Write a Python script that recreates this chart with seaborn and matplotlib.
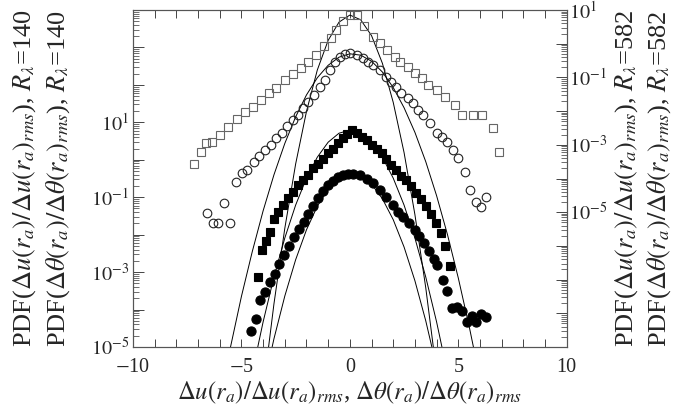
import numpy as np
import pandas as pd
import matplotlib
matplotlib.use("Agg")
import matplotlib.pyplot as plt
import seaborn as sns
from matplotlib.ticker import LogLocator, FixedLocator, MultipleLocator, NullFormatter, FuncFormatter

# ---- R_lambda = 140 (left axis), log10 of PDF ----
# velocity increments, shifted by one decade (filled squares)
u140_x = [-4.23, -4.07, -3.87, -3.69, -3.50, -3.30, -3.07, -2.84, -2.61, -2.38, -2.15,
          -1.92, -1.69, -1.46, -1.23, -1.00, -0.77, -0.54, -0.31, -0.11, 0.08, 0.31,
          0.54, 0.77, 1.00, 1.23, 1.46, 1.69, 1.92, 2.15, 2.38, 2.61, 2.84, 3.07,
          3.30, 3.53, 3.76, 3.99, 4.20, 4.40, 4.62]
u140_log = [-3.13, -2.40, -2.17, -1.94, -1.57, -1.39, -1.21, -1.03, -0.86, -0.68, -0.55,
            -0.41, -0.23, -0.10, 0.03, 0.17, 0.30, 0.44, 0.57, 0.70, 0.79, 0.72,
            0.60, 0.52, 0.40, 0.28, 0.17, 0.02, -0.14, -0.28, -0.42, -0.55, -0.71, -0.88,
            -1.06, -1.24, -1.45, -1.68, -1.95, -2.30, -2.85]

# scalar increments (filled circles)
t140_x = [-4.58, -4.35, -4.15, -3.92, -3.69, -3.46, -3.26, -3.03, -2.80, -2.57, -2.34,
          -2.12, -1.92, -1.69, -1.46, -1.23, -1.00, -0.77, -0.54, -0.31, -0.08, 0.15,
          0.46, 0.77, 1.07, 1.38, 1.69, 2.00, 2.23, 2.46, 2.73, 3.00, 3.19, 3.42,
          3.63, 3.87, 4.04, 4.30, 4.48, 4.69, 4.96, 5.15, 5.38, 5.61, 5.81, 6.07, 6.27]
t140_log = [-4.56, -4.26, -3.75, -3.53, -3.26, -3.04, -2.79, -2.55, -2.31, -2.06, -1.86,
            -1.66, -1.44, -1.24, -1.03, -0.83, -0.68, -0.56, -0.47, -0.41, -0.37, -0.37,
            -0.41, -0.50, -0.63, -0.81, -0.99, -1.21, -1.39, -1.53, -1.70, -1.88, -2.04, -2.22,
            -2.44, -2.65, -2.80, -3.20, -3.51, -3.95, -3.93, -4.04, -4.33, -4.17, -4.33, -4.13, -4.20]

# ---- R_lambda = 582 (right axis), log10 of PDF ----
# velocity increments, shifted by one decade (open squares)
u582_x = [-7.19, -6.88, -6.62, -6.36, -6.00, -5.62, -5.21, -4.85, -4.47, -4.11, -3.73,
          -3.39, -3.00, -2.62, -2.23, -1.93, -1.54, -1.20, -0.88, -0.62, -0.30, 0.00,
          0.31, 0.65, 1.06, 1.39, 1.70, 2.08, 2.31, 2.68, 3.00, 3.31, 3.62, 4.00,
          4.39, 4.85, 5.16, 5.68, 6.08, 6.60, 6.88]
u582_log = [-3.58, -3.22, -2.96, -2.91, -2.71, -2.46, -2.23, -2.02, -1.87, -1.67, -1.47,
            -1.32, -1.08, -0.90, -0.73, -0.53, -0.34, -0.06, 0.16, 0.40, 0.66, 0.85,
            0.85, 0.52, 0.21, 0.02, -0.19, -0.39, -0.53, -0.68, -0.88, -1.03, -1.23, -1.37,
            -1.57, -1.82, -2.12, -2.12, -2.12, -2.50, -3.20]

# scalar increments (open circles)
t582_x = [-6.60, -6.30, -6.07, -5.81, -5.53, -5.25, -4.99, -4.73, -4.42, -4.18, -3.92,
          -3.65, -3.41, -3.15, -2.89, -2.64, -2.41, -2.15, -1.92, -1.66, -1.38, -1.15,
          -0.92, -0.69, -0.46, -0.23, 0.00, 0.31, 0.61, 0.84, 1.07, 1.38, 1.69, 1.92,
          2.15, 2.38, 2.69, 2.92, 3.15, 3.38, 3.69, 4.00, 4.23, 4.46, 4.76, 4.99,
          5.30, 5.53, 5.84, 6.07, 6.30]
t582_log = [-5.03, -5.33, -5.33, -4.74, -5.33, -4.09, -3.85, -3.75, -3.50, -3.33, -3.15,
            -3.01, -2.81, -2.64, -2.44, -2.26, -2.12, -1.92, -1.72, -1.52, -1.29, -1.08,
            -0.78, -0.53, -0.40, -0.32, -0.28, -0.34, -0.43, -0.53, -0.63, -0.78, -0.98, -1.13,
            -1.28, -1.47, -1.62, -1.77, -1.97, -2.12, -2.36, -2.66, -2.76, -2.91, -3.15, -3.40,
            -3.80, -4.34, -4.69, -4.84, -4.54]

# ---- Gaussian reference curves (log10 of PDF) ----
gx_half = [-6.0, -5.5, -5.0, -4.5, -4.0, -3.5, -3.0, -2.5, -2.0, -1.5, -1.0, -0.5, 0.0,
           0.5, 1.0, 1.5, 2.0, 2.5, 3.0, 3.5, 4.0, 4.5, 5.0, 5.5, 6.0]
g_u140_log = [-10.7, -8.89, -7.21, -5.69, -4.33, -3.13, -2.09, -1.21, -0.49, 0.07, 0.47, 0.71, 0.79,
              0.71, 0.47, 0.07, -0.49, -1.21, -2.09, -3.13, -4.33, -5.69, -7.21, -8.89, -10.7]
g_t140_log = [-13.0, -10.9, -8.98, -7.24, -6.09, -4.78, -3.64, -2.67, -1.87, -1.24, -0.78, -0.49, -0.37,
              -0.42, -0.65, -1.04, -1.60, -2.33, -3.23, -4.30, -5.54, -6.95, -8.53, -10.3, -12.2]
g_u582_log = [-23.6, -19.5, -16.0, -12.9, -10.3, -7.72, -5.48, -3.57, -2.01, -0.78, 0.10, 0.64, 0.85,
              0.71, 0.24, -0.58, -1.74, -3.23, -5.07, -7.24, -9.76, -12.6, -15.8, -19.3, -23.2]
g_t582_log = [-10.6, -8.99, -7.50, -6.17, -4.96, -3.89, -2.96, -2.17, -1.52, -1.01, -0.64, -0.40, -0.30,
              -0.34, -0.52, -0.84, -1.30, -1.90, -2.63, -3.50, -4.51, -5.66, -6.95, -8.38, -9.94]

left_label = ("PDF($\\Delta u(r_a)/\\Delta u(r_a)_{rms}$), $R_\\lambda$=140\n"
              "PDF($\\Delta\\theta(r_a)/\\Delta\\theta(r_a)_{rms}$), $R_\\lambda$=140")
right_label = ("PDF($\\Delta u(r_a)/\\Delta u(r_a)_{rms}$), $R_\\lambda$=582\n"
               "PDF($\\Delta\\theta(r_a)/\\Delta\\theta(r_a)_{rms}$), $R_\\lambda$=582")
x_label = "$\\Delta u(r_a)/\\Delta u(r_a)_{rms}$, $\\Delta\\theta(r_a)/\\Delta\\theta(r_a)_{rms}$"

sns.set_theme(style="ticks")
plt.rcParams["font.family"] = ["Liberation Serif", "DejaVu Serif"]
plt.rcParams["mathtext.fontset"] = "stix"
plt.rcParams["axes.edgecolor"] = "#555555"
plt.rcParams["axes.linewidth"] = 0.8

W, H = 675, 415
fig = plt.figure(figsize=(W / 100, H / 100), dpi=100)
ax = fig.add_axes([133 / W, 1 - 347 / H, (566.7 - 133) / W, 337 / H])
ax2 = ax.twinx()
for a in (ax, ax2):
    a.set_yscale("log")
    a.set_facecolor("none")
ax.set_xlim(-10, 10)
ax.set_ylim(1e-5, 1e4)
ax2.set_ylim(1e-9, 1e1)


def frame(x, logy):
    return pd.DataFrame({"x": x, "y": 10.0 ** np.asarray(logy, dtype=float)})


def curve(a, logy):
    sns.lineplot(data=frame(gx_half, logy), x="x", y="y", ax=a, color="black",
                 linewidth=0.7, estimator=None, sort=False)


def points(a, x, logy, marker, size, filled, ec="black"):
    sns.lineplot(data=frame(x, logy), x="x", y="y", ax=a, estimator=None, sort=False,
                 linestyle="", marker=marker, markersize=size,
                 markerfacecolor=("black" if filled else "none"),
                 markeredgecolor=ec, markeredgewidth=0.8)


# left axis: R_lambda = 140
curve(ax, g_u140_log)
curve(ax, g_t140_log)
points(ax, u140_x, u140_log, "s", 5.6, True)
points(ax, t140_x, t140_log, "o", 6.6, True)

# right axis: R_lambda = 582
curve(ax2, g_u582_log)
curve(ax2, g_t582_log)
points(ax2, u582_x, u582_log, "s", 5.8, False, ec="#666666")
points(ax2, t582_x, t582_log, "o", 6.2, False, ec="#222222")

ax.set_xlim(-10, 10)
ax.set_ylim(1e-5, 1e4)
ax2.set_ylim(1e-9, 1e1)


def dec_fmt(lo, hi):
    def f(v, pos):
        e = int(round(np.log10(v)))
        if lo <= e <= hi and (e - lo) % 2 == 0:
            return "$10^{%d}$" % e
        return ""
    return FuncFormatter(f)


for a, lo in ((ax, -5), (ax2, -5)):
    a.yaxis.set_major_locator(LogLocator(base=10, numticks=30))
    a.yaxis.set_minor_locator(LogLocator(base=10, subs=np.arange(2, 10), numticks=200))
    a.yaxis.set_major_formatter(dec_fmt(lo, 1))
    a.yaxis.set_minor_formatter(NullFormatter())

ax.xaxis.set_major_locator(FixedLocator([-10, -5, 0, 5, 10]))
ax.xaxis.set_minor_locator(MultipleLocator(1))
ax.xaxis.set_major_formatter(FuncFormatter(lambda v, p: "$-$%d" % abs(v) if v < 0 else "%d" % v))

ax.tick_params(axis="x", which="both", direction="in", top=True, bottom=True,
               length=6, width=0.7, color="#444444", labelsize=14.5, pad=8)
ax.tick_params(axis="y", which="major", direction="in", left=True, right=False,
               length=8, width=0.7, color="#444444", labelsize=14.5, pad=3)
ax.tick_params(axis="y", which="minor", direction="in", left=True, right=False,
               length=4, width=0.6, color="#555555")
ax2.tick_params(axis="y", which="major", direction="in", right=True, left=False,
                length=8, width=0.7, color="#444444", labelsize=14.5, pad=2)
ax2.tick_params(axis="y", which="minor", direction="in", right=True, left=False,
                length=4, width=0.6, color="#555555")

ax.set_xlabel(x_label, fontsize=17.8, labelpad=2)
ax.set_ylabel(left_label, fontsize=19, linespacing=1.3)
ax.yaxis.set_label_coords(-0.141, 0.5)
ax2.set_ylabel(right_label, fontsize=19, linespacing=1.25, rotation=90)
ax2.yaxis.set_label_coords(1.108, 0.5)

fig.savefig("out.png", dpi=100)
